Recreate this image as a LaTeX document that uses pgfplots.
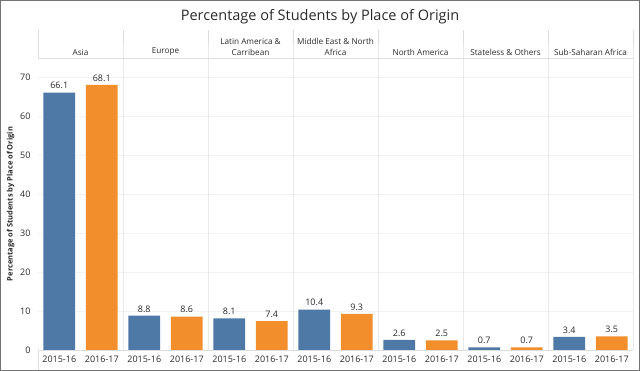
\documentclass[border=0pt]{standalone}
\usepackage{pgfplots}
\pgfplotsset{compat=1.18}
\usepackage{fontspec}
\setmainfont{Open Sans}
\definecolor{tblue}{HTML}{4E79A7}
\definecolor{torange}{HTML}{F28E2B}
\definecolor{txt}{HTML}{2A2A2A}
\definecolor{sep}{HTML}{DDDDDD}
\begin{document}
\begin{tikzpicture}[x=1pt,y=1pt]
\useasboundingbox (0,0) rectangle (640,371);
\draw[black!55,line width=1.2pt] (0.6,0.6) rectangle (639.4,370.4);
\node[font=\fontsize{14.5}{16}\selectfont, text=txt] at (320,354) {Percentage of Students by Place of Origin};
\begin{axis}[
  at={(38pt,21pt)}, anchor=south west,
  scale only axis, width=595pt, height=292pt,
  xmin=0, xmax=14, ymin=0, ymax=75,
  clip=false,
  axis line style={draw=none},
  major tick length=0pt,
  ytick={0,10,...,70},
  ymajorgrids, grid style={black!5},
  xtick={0.5,1.5,...,13.5},
  xticklabels={2015-16,2016-17,2015-16,2016-17,2015-16,2016-17,2015-16,2016-17,2015-16,2016-17,2015-16,2016-17,2015-16,2016-17},
  tick label style={font=\fontsize{9}{10}\selectfont, text=txt},
  /pgf/number format/assume math mode=true,
  yticklabel style={xshift=-4pt},
  xticklabel style={yshift=-2pt},
  ylabel={\bfseries Percentage of Students by Place of Origin},
  ylabel style={font=\fontsize{7.5}{9}\selectfont, text=txt, yshift=-1pt},
  ybar, bar shift=0pt, bar width=0.75,
  nodes near coords,
  every node near coord/.append style={font=\fontsize{9}{10}\selectfont, text=txt},
  nodes near coords style={/pgf/number format/.cd, fixed, fixed zerofill, precision=1},
]
\addplot[fill=tblue, draw=none] coordinates {(0.5,66.1) (2.5,8.8) (4.5,8.1) (6.5,10.4) (8.5,2.6) (10.5,0.7) (12.5,3.4)};
\addplot[fill=torange, draw=none] coordinates {(1.5,68.1) (3.5,8.6) (5.5,7.4) (7.5,9.3) (9.5,2.5) (11.5,0.7) (13.5,3.5)};
\draw[sep] (axis cs:0,0) -- (axis cs:14,0);
\draw[sep] (axis cs:0,75) -- (axis cs:14,75);
\draw[sep] (axis cs:0,75) -- ++(0,28pt);
\draw[sep] (axis cs:0,0) -- ++(0,-20pt);
\draw[sep] (axis cs:2,0) -- (axis cs:2,75) -- ++(0,28pt);
\draw[sep] (axis cs:4,0) -- (axis cs:4,75) -- ++(0,28pt);
\draw[sep] (axis cs:6,0) -- (axis cs:6,75) -- ++(0,28pt);
\draw[sep] (axis cs:8,0) -- (axis cs:8,75) -- ++(0,28pt);
\draw[sep] (axis cs:10,0) -- (axis cs:10,75) -- ++(0,28pt);
\draw[sep] (axis cs:12,0) -- (axis cs:12,75) -- ++(0,28pt);
\draw[sep] (axis cs:14,0) -- (axis cs:14,75) -- ++(0,28pt);
\node[font=\fontsize{8.2}{11}\selectfont, text=txt, align=center, anchor=south, yshift=-1pt] at (axis cs:1,75) {Asia};
\node[font=\fontsize{8.2}{11}\selectfont, text=txt, align=center, anchor=south, yshift=-1pt] at (axis cs:3,75) {Europe};
\node[font=\fontsize{8.2}{11}\selectfont, text=txt, align=center, anchor=south, yshift=-1pt] at (axis cs:5,75) {Latin America \&\\Carribean};
\node[font=\fontsize{8.2}{11}\selectfont, text=txt, align=center, anchor=south, yshift=-1pt] at (axis cs:7,75) {Middle East \& North\\Africa};
\node[font=\fontsize{8.2}{11}\selectfont, text=txt, align=center, anchor=south, yshift=-1pt] at (axis cs:9,75) {North America};
\node[font=\fontsize{8.2}{11}\selectfont, text=txt, align=center, anchor=south, yshift=-1pt] at (axis cs:11,75) {Stateless \& Others};
\node[font=\fontsize{8.2}{11}\selectfont, text=txt, align=center, anchor=south, yshift=-1pt] at (axis cs:13,75) {Sub-Saharan Africa};
\end{axis}
\end{tikzpicture}
\end{document}
